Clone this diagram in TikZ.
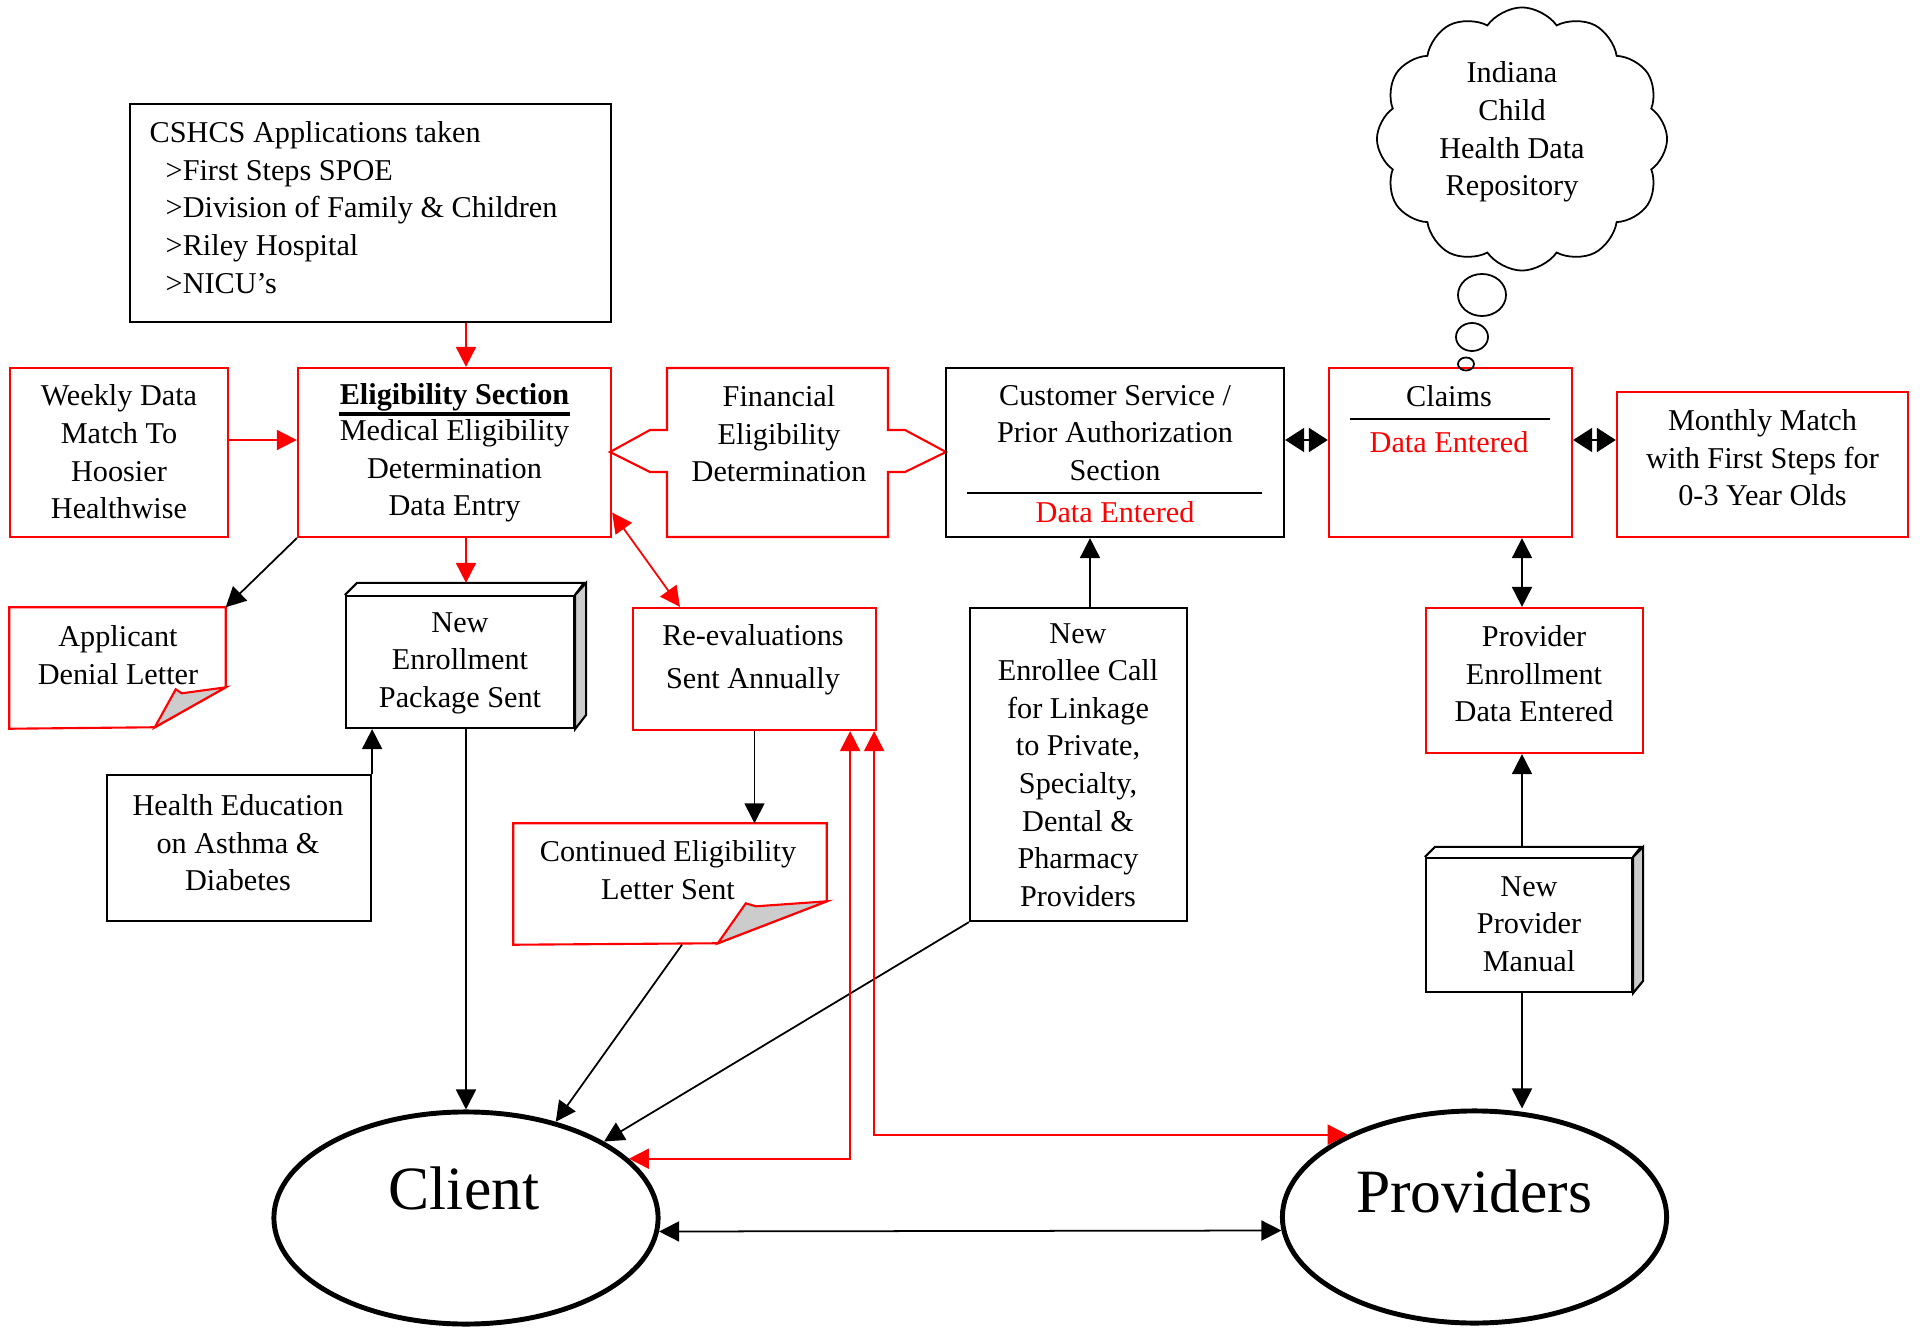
\documentclass[tikz,border=0pt]{standalone}
\usepackage{fontspec}
\setmainfont{Liberation Serif}
\usetikzlibrary{arrows.meta,shapes.geometric,shapes.symbols}

\begin{document}
\begin{tikzpicture}[x=0.01cm,y=-0.01cm,
  >={Triangle[length=0.2cm,width=0.2cm]},
  box/.style={draw,line width=0.6pt,inner sep=0pt},
  redbox/.style={box,draw=red},
  txt/.style={align=center,inner sep=0pt,font=\fontsize{8.6}{10.7}\selectfont},
  bigtxt/.style={inner sep=0pt,font=\fontsize{17.5}{20}\selectfont},
  party/.style={ellipse,draw,line width=1.4pt,minimum width=3.84cm,minimum height=2.12cm,inner sep=0pt},
  bubble/.style={ellipse,draw,line width=0.5pt,inner sep=0pt},
  arr/.style={->,line width=0.5pt},
  dblarr/.style={<->,line width=0.5pt},
  bigdbl/.style={{Triangle[length=0.19cm,width=0.24cm]}-{Triangle[length=0.19cm,width=0.24cm]},line width=0.5pt},
  redarr/.style={arr,red},
  reddbl/.style={dblarr,red}]
\useasboundingbox (0,0) rectangle (1921,1328);

\node[box,minimum width=4.81cm,minimum height=2.18cm] (cshcs) at (370.5,213) {};
\node[txt,align=left,anchor=north west] (cshcs-t) at (149,121) {CSHCS Applications taken\\\hspace*{1.6mm}>First Steps SPOE\\\hspace*{1.6mm}>Division of Family \& Children\\\hspace*{1.6mm}>Riley Hospital\\\hspace*{1.6mm}>NICU’s};

\node[redbox,minimum width=2.18cm,minimum height=1.69cm] (weekly) at (119,452.5) {};
\node[txt] (weekly-t) at (119,452) {Weekly Data\\Match To\\Hoosier\\Healthwise};

\node[redbox,minimum width=3.13cm,minimum height=1.69cm] (elig) at (454.5,452.5) {};
\node[txt,font=\fontsize{8.6}{10.7}\selectfont\bfseries] (elig-h) at (454.5,397) {Eligibility Section};
\draw[line width=1.1pt] ([yshift=-0.6pt]elig-h.south west) -- ([yshift=-0.6pt]elig-h.south east);
\node[txt] (elig-t) at (454.5,471) {Medical Eligibility\\Determination\\Data Entry};

\draw[red,line width=0.6pt] (667,368) -- (888,368) -- (888,430) -- (905,430) -- (946,452) -- (905,472) -- (888,472) -- (888,537) -- (667,537) -- (667,472) -- (650,472) -- (610,452) -- (650,430) -- (667,430) -- cycle;
\node[txt] (fin) at (779,434) {Financial\\Eligibility\\Determination};

\node[box,minimum width=3.38cm,minimum height=1.69cm] (cust) at (1115,452.5) {};
\node[txt] (cust-t) at (1115,433) {Customer Service /\\Prior Authorization\\Section};
\draw[line width=0.6pt] (967,493) -- (1262,493);
\node[txt,red] (cust-d) at (1115,512) {Data Entered};

\node[redbox,minimum width=2.43cm,minimum height=1.69cm] (claims) at (1450.5,452.5) {};
\node[txt] (claims-t) at (1449,396) {Claims};
\draw[line width=0.6pt] (1350,419) -- (1550,419);
\node[txt,red] (claims-d) at (1449,442) {Data Entered};

\node[redbox,minimum width=2.91cm,minimum height=1.45cm] (monthly) at (1762.5,464.5) {};
\node[txt] (monthly-t) at (1762.5,458) {Monthly Match\\with First Steps for\\0-3 Year Olds};

\node[cloud,draw,cloud puffs=12,cloud puff arc=110,aspect=1.1,line width=0.5pt,minimum width=2.9cm,minimum height=2.63cm,inner sep=0pt] (repo) at (1522,139) {};
\node[txt] (repo-t) at (1512,132) {Indiana\\Child\\Health Data\\Repository};
\node[bubble,minimum width=0.48cm,minimum height=0.42cm] (bub1) at (1482,295) {};
\node[bubble,minimum width=0.32cm,minimum height=0.28cm] (bub2) at (1472,337) {};
\node[bubble,minimum width=0.16cm,minimum height=0.13cm] (bub3) at (1466,364) {};

\node[minimum width=2.15cm,minimum height=1.2cm,inner sep=0pt] (deny) at (117.5,668) {};
\draw[red,line width=0.6pt] (deny.north west) -- (deny.north east) -- ++(0,80) -- ++(-71,40) -- (deny.south west) -- cycle;
\draw[red,fill=gray!40,line width=0.6pt] ([yshift=-0.8cm]deny.north east) -- ++(-44,6) -- ++(-6,-4) -- ++(-21,38) -- cycle;
\node[txt] (deny-t) at (118,655) {Applicant\\Denial Letter};

\node[box,minimum width=2.28cm,minimum height=1.32cm] (newenr) at (460,662) {};
\draw[line width=0.6pt] (newenr.north west) -- ++(12,-12) -- ++(227,0) -- (newenr.north east);
\draw[line width=0.6pt,fill=gray!40] (newenr.north east) -- ++(11,-12) -- ++(0,132) -- (newenr.south east) -- cycle;
\coordinate (newenr-top) at ([yshift=0.12cm]newenr.north);
\node[txt] (newenr-t) at (460,663) {New\\Enrollment\\Package Sent};

\node[redbox,minimum width=2.43cm,minimum height=1.22cm] (reeval) at (754.5,669) {};
\node[txt] (reeval-t) at (753,660) {Re-evaluations\\[1.5pt]Sent Annually};

\node[box,minimum width=2.64cm,minimum height=1.46cm] (health) at (239,848) {};
\node[txt] (health-t) at (238,843) {Health Education\\on Asthma \&\\Diabetes};

\node[minimum width=3.12cm,minimum height=1.2cm,inner sep=0pt] (contd) at (670,884) {};
\draw[red,line width=0.6pt] (contd.north west) -- (contd.north east) -- ++(0,78) -- ++(-109,42) -- (contd.south west) -- cycle;
\draw[red,fill=gray!40,line width=0.6pt] ([yshift=-0.78cm]contd.north east) -- ++(-71,5) -- ++(-10,-3) -- ++(-28,40) -- cycle;
\node[txt] (contd-t) at (668,870) {Continued Eligibility\\Letter Sent};

\node[box,minimum width=2.17cm,minimum height=3.13cm] (call) at (1078.5,764.5) {};
\node[txt] (call-t) at (1078,765) {New\\Enrollee Call\\for Linkage\\to Private,\\Specialty,\\Dental \&\\Pharmacy\\Providers};

\node[redbox,minimum width=2.17cm,minimum height=1.45cm] (provenr) at (1534.5,680.5) {};
\node[txt] (provenr-t) at (1534,674) {Provider\\Enrollment\\Data Entered};

\node[box,minimum width=2.06cm,minimum height=1.34cm] (manual) at (1529,925) {};
\draw[line width=0.6pt] (manual.north west) -- ++(10,-10) -- ++(206,0) -- (manual.north east);
\draw[line width=0.6pt,fill=gray!40] (manual.north east) -- ++(10,-10) -- ++(0,134) -- (manual.south east) -- cycle;
\coordinate (manual-top) at ([yshift=0.1cm]manual.north);
\node[txt] (manual-t) at (1529,924) {New\\Provider\\Manual};

\node[party] (client) at (466,1218) {};
\node[bigtxt] (client-t) at (464,1188) {Client};
\node[party] (providers) at (1474.5,1217) {};
\node[bigtxt] (providers-t) at (1474,1191) {Providers};

\coordinate (ecol) at (466,0);
\coordinate (ccol) at (1090,0);
\coordinate (pcol) at (1522,0);
\coordinate (row) at (0,440);

\draw[redarr] (ecol |- cshcs.south) -- (ecol |- elig.north);
\draw[redarr] (row -| weekly.east) -- (row -| elig.west);
\draw[redarr] (ecol |- elig.south) -- (ecol |- newenr-top);
\draw[arr] (elig.south west) -- (deny.north east);
\draw[reddbl] ([yshift=-0.6cm]elig.east) -- ([xshift=-0.745cm]reeval.north);
\draw[bigdbl] (row -| cust.east) -- (row -| claims.west);
\draw[bigdbl] (row -| claims.east) -- (row -| monthly.west);
\draw[dblarr] (pcol |- claims.south) -- (pcol |- provenr.north);
\draw[arr] (pcol |- manual-top) -- (pcol |- provenr.south);
\draw[arr] (pcol |- manual.south) -- (pcol |- providers.north);
\draw[arr] (ccol |- call.north) -- (ccol |- cust.south);
\draw[arr] (health.north east) -- (health.north east |- newenr.south);
\draw[arr] (reeval.south) -- (reeval.south |- contd.north);
\draw[arr] (ecol |- newenr.south) -- (client.north);
\draw[arr] ([xshift=0.12cm]contd.south) -- (client.47);
\draw[arr] (call.south west) -- (client.29);
\draw[reddbl] ([xshift=-0.27cm]reeval.south east) |- (client.20);
\draw[reddbl] ([xshift=-0.03cm]reeval.south east) |- (providers.147);
\draw[dblarr] (client.-4) -- (providers.184);
\end{tikzpicture}
\end{document}
